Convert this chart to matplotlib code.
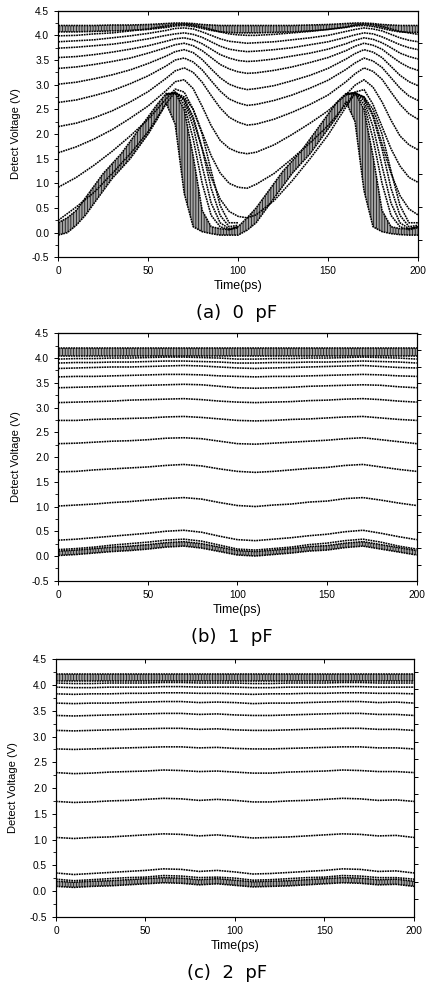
"""
Detect voltage vs time for three load capacitances (0, 1, 2 pF).
Stacked panels, each with a family of detect curves.
"""

import matplotlib
matplotlib.use("Agg")
import matplotlib.pyplot as plt
import numpy as np


# ---------------------------------------------------------------- panel (a)
T_A = [0, 10, 20, 30, 40, 50, 60, 65, 70, 75, 80, 85, 90, 95, 100, 105,
       110, 120, 130, 140, 150, 160, 165, 170, 175, 180, 185, 190, 195, 200]

A_CURVES = [
    [3.99, 4.00, 4.03, 4.05, 4.09, 4.13, 4.19, 4.22, 4.23, 4.21, 4.17, 4.12, 4.07, 4.03, 4.01,
     4.00, 4.00, 4.02, 4.05, 4.08, 4.12, 4.17, 4.21, 4.23, 4.22, 4.18, 4.13, 4.08, 4.05, 4.02],
    [3.87, 3.89, 3.91, 3.95, 3.99, 4.04, 4.10, 4.14, 4.15, 4.13, 4.07, 4.00, 3.93, 3.88, 3.86,
     3.84, 3.85, 3.87, 3.91, 3.95, 4.00, 4.08, 4.12, 4.15, 4.13, 4.09, 4.02, 3.95, 3.90, 3.87],
    [3.74, 3.76, 3.79, 3.82, 3.87, 3.93, 4.00, 4.03, 4.05, 4.02, 3.96, 3.87, 3.78, 3.72, 3.69,
     3.67, 3.68, 3.71, 3.75, 3.81, 3.87, 3.96, 4.01, 4.05, 4.03, 3.97, 3.89, 3.81, 3.75, 3.71],
    [3.55, 3.57, 3.61, 3.66, 3.72, 3.79, 3.88, 3.93, 3.95, 3.91, 3.83, 3.72, 3.61, 3.54, 3.49,
     3.47, 3.48, 3.52, 3.58, 3.64, 3.72, 3.83, 3.90, 3.95, 3.92, 3.85, 3.75, 3.64, 3.57, 3.52],
    [3.33, 3.36, 3.41, 3.47, 3.54, 3.64, 3.75, 3.81, 3.84, 3.79, 3.69, 3.55, 3.41, 3.32, 3.26,
     3.23, 3.24, 3.29, 3.36, 3.45, 3.55, 3.69, 3.78, 3.84, 3.80, 3.72, 3.58, 3.45, 3.35, 3.29],
    [3.01, 3.05, 3.12, 3.20, 3.30, 3.43, 3.58, 3.67, 3.71, 3.65, 3.51, 3.32, 3.14, 3.01, 2.94,
     2.90, 2.92, 2.98, 3.08, 3.19, 3.33, 3.52, 3.63, 3.71, 3.66, 3.55, 3.37, 3.19, 3.06, 2.98],
    [2.64, 2.69, 2.78, 2.88, 3.02, 3.18, 3.38, 3.50, 3.54, 3.46, 3.30, 3.08, 2.87, 2.71, 2.63,
     2.58, 2.60, 2.68, 2.79, 2.93, 3.09, 3.31, 3.44, 3.54, 3.48, 3.35, 3.14, 2.93, 2.77, 2.68],
    [2.15, 2.22, 2.33, 2.47, 2.65, 2.86, 3.13, 3.28, 3.34, 3.25, 3.05, 2.78, 2.53, 2.34, 2.24,
     2.18, 2.20, 2.30, 2.44, 2.60, 2.79, 3.06, 3.22, 3.34, 3.27, 3.11, 2.85, 2.60, 2.41, 2.30],
    [1.62, 1.74, 1.90, 2.09, 2.32, 2.57, 2.88, 3.06, 3.10, 2.92, 2.56, 2.17, 1.87, 1.71, 1.63,
     1.60, 1.63, 1.78, 1.99, 2.22, 2.47, 2.80, 2.99, 3.10, 2.95, 2.65, 2.28, 1.96, 1.78, 1.68],
    [0.92, 1.12, 1.37, 1.65, 1.96, 2.30, 2.71, 2.91, 2.85, 2.50, 2.03, 1.56, 1.21, 1.00, 0.92,
     0.90, 0.98, 1.20, 1.50, 1.82, 2.17, 2.60, 2.85, 2.90, 2.60, 2.15, 1.70, 1.35, 1.12, 1.02],
    [0.25, 0.52, 0.82, 1.20, 1.60, 2.05, 2.62, 2.85, 2.70, 2.29, 1.70, 1.12, 0.68, 0.43, 0.33,
     0.30, 0.36, 0.65, 1.05, 1.50, 1.98, 2.55, 2.82, 2.75, 2.40, 1.80, 1.20, 0.75, 0.48, 0.36],
]

TOP_A_HIGH = [4.20, 4.20, 4.20, 4.21, 4.21, 4.22, 4.24, 4.25, 4.25, 4.24, 4.22, 4.21, 4.20, 4.20, 4.20,
              4.20, 4.20, 4.20, 4.20, 4.21, 4.22, 4.24, 4.25, 4.25, 4.24, 4.22, 4.21, 4.20, 4.20, 4.20]
TOP_A_LOW = [4.07, 4.07, 4.08, 4.09, 4.10, 4.12, 4.16, 4.19, 4.20, 4.18, 4.14, 4.10, 4.07, 4.06, 4.05,
             4.05, 4.05, 4.06, 4.07, 4.09, 4.12, 4.16, 4.19, 4.20, 4.18, 4.14, 4.10, 4.07, 4.06, 4.06]

# dense lower band, 5 ps grid
BAND_A_T = list(range(0, 201, 5))
BAND_A_LOW = [-0.05, 0.00, 0.15, 0.35, 0.60, 0.85, 1.10, 1.30, 1.50, 1.75, 2.00, 2.30, 2.62, 2.20,
              0.80, 0.12, 0.02, -0.02, -0.05, -0.05, -0.05, 0.05, 0.20, 0.45, 0.70, 0.95, 1.20,
              1.40, 1.60, 1.85, 2.10, 2.35, 2.65, 2.25, 0.85, 0.12, 0.02, -0.02, -0.04, -0.05, -0.05]
BAND_A_HIGH = [0.20, 0.30, 0.45, 0.70, 0.95, 1.20, 1.40, 1.60, 1.85, 2.10, 2.35, 2.60, 2.82, 2.83,
               2.50, 1.55, 0.45, 0.12, 0.08, 0.06, 0.12, 0.30, 0.50, 0.75, 1.00, 1.25, 1.45,
               1.65, 1.90, 2.15, 2.40, 2.65, 2.82, 2.83, 2.50, 1.55, 0.45, 0.12, 0.08, 0.08, 0.12]

# slower falling edges that leave the band
FALL_A_T1 = [60, 65, 70, 75, 80, 85, 90, 95, 100]
FALL_A_T2 = [160, 165, 170, 175, 180, 185, 190, 195, 200]
FALL_A_CURVES = [
    [2.80, 2.83, 2.60, 1.90, 1.00, 0.35, 0.12, 0.06, 0.10],
    [2.80, 2.83, 2.68, 2.15, 1.35, 0.60, 0.20, 0.08, 0.12],
    [2.80, 2.84, 2.72, 2.35, 1.70, 0.90, 0.35, 0.12, 0.15],
    [2.80, 2.84, 2.75, 2.50, 2.00, 1.25, 0.55, 0.20, 0.20],
]

# ---------------------------------------------------------------- panel (b)
T_BC = list(range(0, 201, 10))

B_CURVES = [
    [3.98, 3.99, 3.99, 4.00, 4.00, 4.01, 4.02, 4.02, 4.01, 4.00, 3.98, 3.98, 3.99, 3.99, 4.00, 4.00, 4.01, 4.02, 4.01, 4.00, 3.98],
    [3.90, 3.91, 3.91, 3.92, 3.92, 3.93, 3.94, 3.94, 3.93, 3.92, 3.90, 3.90, 3.91, 3.91, 3.92, 3.92, 3.93, 3.94, 3.93, 3.92, 3.90],
    [3.79, 3.80, 3.81, 3.82, 3.82, 3.83, 3.84, 3.85, 3.84, 3.82, 3.80, 3.79, 3.80, 3.81, 3.82, 3.83, 3.84, 3.85, 3.83, 3.81, 3.80],
    [3.62, 3.63, 3.63, 3.64, 3.65, 3.66, 3.67, 3.67, 3.66, 3.64, 3.63, 3.62, 3.63, 3.63, 3.64, 3.65, 3.66, 3.67, 3.66, 3.64, 3.63],
    [3.40, 3.41, 3.42, 3.43, 3.44, 3.45, 3.46, 3.47, 3.46, 3.43, 3.40, 3.39, 3.40, 3.41, 3.43, 3.44, 3.45, 3.46, 3.45, 3.42, 3.40],
    [3.10, 3.11, 3.12, 3.13, 3.15, 3.16, 3.17, 3.18, 3.16, 3.13, 3.11, 3.10, 3.11, 3.12, 3.14, 3.15, 3.17, 3.18, 3.16, 3.13, 3.11],
    [2.74, 2.74, 2.76, 2.77, 2.78, 2.79, 2.81, 2.82, 2.80, 2.77, 2.74, 2.73, 2.74, 2.76, 2.77, 2.79, 2.81, 2.82, 2.79, 2.76, 2.74],
    [2.27, 2.28, 2.30, 2.32, 2.33, 2.35, 2.38, 2.39, 2.37, 2.32, 2.27, 2.26, 2.28, 2.30, 2.32, 2.34, 2.37, 2.39, 2.35, 2.31, 2.27],
    [1.70, 1.71, 1.74, 1.76, 1.78, 1.80, 1.83, 1.85, 1.82, 1.76, 1.71, 1.69, 1.71, 1.74, 1.77, 1.79, 1.83, 1.85, 1.80, 1.75, 1.71],
    [1.01, 1.03, 1.05, 1.08, 1.10, 1.13, 1.16, 1.18, 1.15, 1.08, 1.02, 1.00, 1.03, 1.05, 1.09, 1.11, 1.16, 1.18, 1.13, 1.07, 1.02],
    [0.32, 0.34, 0.37, 0.40, 0.43, 0.46, 0.50, 0.52, 0.48, 0.40, 0.33, 0.31, 0.34, 0.37, 0.41, 0.44, 0.49, 0.52, 0.46, 0.39, 0.33],
    [0.13, 0.15, 0.18, 0.22, 0.25, 0.28, 0.32, 0.34, 0.30, 0.22, 0.14, 0.12, 0.15, 0.18, 0.23, 0.26, 0.31, 0.34, 0.28, 0.20, 0.14],
]
TOP_B_LOW = [4.05] * 21
TOP_B_HIGH = [4.21] * 21
BOT_B_LOW = [0.01, 0.03, 0.06, 0.09, 0.11, 0.14, 0.18, 0.20, 0.16, 0.09, 0.02,
             0.00, 0.03, 0.06, 0.10, 0.12, 0.17, 0.20, 0.14, 0.08, 0.02]
BOT_B_HIGH = [0.10, 0.12, 0.15, 0.18, 0.20, 0.23, 0.27, 0.29, 0.25, 0.18, 0.11,
              0.09, 0.12, 0.15, 0.19, 0.21, 0.26, 0.29, 0.23, 0.17, 0.11]

# ---------------------------------------------------------------- panel (c)
C_CURVES = [
    [4.04, 4.03, 4.03, 4.04, 4.04, 4.04, 4.05, 4.05, 4.04, 4.04, 4.04, 4.03, 4.03, 4.04, 4.04, 4.04, 4.05, 4.05, 4.04, 4.04, 4.04],
    [3.96, 3.95, 3.95, 3.96, 3.96, 3.96, 3.97, 3.97, 3.96, 3.96, 3.96, 3.95, 3.95, 3.96, 3.96, 3.96, 3.97, 3.97, 3.96, 3.96, 3.96],
    [3.83, 3.82, 3.83, 3.83, 3.84, 3.84, 3.85, 3.85, 3.84, 3.84, 3.83, 3.82, 3.83, 3.83, 3.84, 3.84, 3.85, 3.85, 3.84, 3.84, 3.83],
    [3.65, 3.64, 3.65, 3.65, 3.66, 3.67, 3.68, 3.68, 3.66, 3.67, 3.66, 3.64, 3.65, 3.65, 3.66, 3.67, 3.68, 3.68, 3.66, 3.67, 3.65],
    [3.41, 3.40, 3.41, 3.42, 3.43, 3.44, 3.45, 3.45, 3.43, 3.44, 3.42, 3.41, 3.41, 3.42, 3.43, 3.44, 3.45, 3.45, 3.43, 3.43, 3.41],
    [3.12, 3.11, 3.12, 3.13, 3.14, 3.15, 3.16, 3.16, 3.14, 3.15, 3.13, 3.12, 3.12, 3.13, 3.14, 3.15, 3.16, 3.16, 3.14, 3.14, 3.12],
    [2.76, 2.75, 2.76, 2.77, 2.78, 2.79, 2.80, 2.80, 2.78, 2.79, 2.77, 2.76, 2.76, 2.77, 2.78, 2.79, 2.80, 2.80, 2.78, 2.78, 2.76],
    [2.30, 2.28, 2.29, 2.31, 2.32, 2.33, 2.35, 2.34, 2.32, 2.33, 2.31, 2.29, 2.29, 2.31, 2.32, 2.33, 2.35, 2.34, 2.32, 2.32, 2.30],
    [1.74, 1.72, 1.73, 1.75, 1.76, 1.78, 1.80, 1.79, 1.76, 1.78, 1.76, 1.73, 1.73, 1.75, 1.76, 1.78, 1.80, 1.79, 1.76, 1.77, 1.74],
    [1.04, 1.02, 1.04, 1.05, 1.07, 1.09, 1.11, 1.10, 1.07, 1.09, 1.06, 1.03, 1.04, 1.05, 1.07, 1.09, 1.11, 1.10, 1.07, 1.08, 1.04],
    [0.35, 0.32, 0.34, 0.36, 0.38, 0.40, 0.43, 0.42, 0.38, 0.40, 0.37, 0.33, 0.34, 0.36, 0.38, 0.40, 0.43, 0.42, 0.38, 0.39, 0.35],
    [0.23, 0.20, 0.22, 0.24, 0.26, 0.27, 0.30, 0.29, 0.26, 0.27, 0.25, 0.21, 0.22, 0.24, 0.26, 0.27, 0.30, 0.29, 0.26, 0.26, 0.23],
]
TOP_C_LOW = [4.08] * 21
TOP_C_HIGH = [4.22] * 21
BOT_C_LOW = [0.09, 0.07, 0.09, 0.10, 0.12, 0.14, 0.16, 0.15, 0.12, 0.14, 0.11,
             0.08, 0.09, 0.10, 0.12, 0.14, 0.16, 0.15, 0.12, 0.13, 0.09]
BOT_C_HIGH = [0.19, 0.17, 0.19, 0.20, 0.22, 0.24, 0.26, 0.25, 0.22, 0.24, 0.21,
              0.18, 0.19, 0.20, 0.22, 0.24, 0.26, 0.25, 0.22, 0.23, 0.19]

CAPTIONS = ["(a)  0  pF", "(b)  1  pF", "(c)  2  pF"]

CURVE_STYLE = dict(color="black", linewidth=1.15, linestyle=(0, (1.1, 0.5)))


def draw_band(ax, t, low, high):
    """Hatched band standing in for a bundle of overlapping curves."""
    ax.fill_between(t, low, high, facecolor="#a4a4a4", edgecolor="#1a1a1a",
                    hatch="||||||", linewidth=0.0)
    ax.plot(t, low, **CURVE_STYLE)
    ax.plot(t, high, **CURVE_STYLE)


def style_axes(ax, right_start, right_step):
    ax.set_xlim(0, 200)
    ax.set_ylim(-0.5, 4.5)
    ax.set_xticks([0, 50, 100, 150, 200])
    ax.set_yticks(np.arange(-0.5, 4.51, 0.5))
    ax.set_yticks(np.arange(-0.5, 4.51, 0.25), minor=True)
    ax.yaxis.set_major_formatter(matplotlib.ticker.FormatStrFormatter("%.1f"))
    ax.tick_params(axis="both", which="major", direction="out", length=3,
                   width=0.7, labelsize=7.3, pad=3.5)
    ax.tick_params(axis="y", which="minor", direction="out", length=2, width=0.6)
    for side in ax.spines.values():
        side.set_linewidth(0.8)
        side.set_color("#222222")
    ax.set_xlabel("Time(ps)", fontsize=9, labelpad=3)
    ax.set_ylabel("Detect Voltage (V)", fontsize=8, labelpad=8)

    top = ax.secondary_xaxis("top")
    top.set_xticks([50, 100, 150])
    top.set_xticklabels([])
    top.tick_params(direction="in", length=3, width=0.7)

    right = ax.twinx()
    right.set_ylim(-0.5, 4.5)
    right.set_yticks(np.arange(right_start, 4.5, right_step))
    right.set_yticklabels([])
    right.tick_params(direction="out", length=3, width=0.7)
    right.spines["right"].set_linewidth(0.8)


def draw_panel_a(ax):
    draw_band(ax, T_A, TOP_A_LOW, TOP_A_HIGH)
    for values in A_CURVES:
        ax.plot(T_A, values, **CURVE_STYLE)
    draw_band(ax, BAND_A_T, BAND_A_LOW, BAND_A_HIGH)
    for values in FALL_A_CURVES:
        ax.plot(FALL_A_T1, values, **CURVE_STYLE)
        ax.plot(FALL_A_T2, values, **CURVE_STYLE)


def draw_flat_panel(ax, curves, top_low, top_high, bot_low, bot_high):
    draw_band(ax, T_BC, top_low, top_high)
    for values in curves:
        ax.plot(T_BC, values, **CURVE_STYLE)
    draw_band(ax, T_BC, bot_low, bot_high)


def main():
    plt.rcParams["font.family"] = ["Liberation Sans", "DejaVu Sans"]
    plt.rcParams["hatch.linewidth"] = 0.6

    fig = plt.figure(figsize=(4.34, 9.90), dpi=100)
    ax_a = fig.add_axes([0.1343, 0.7401, 0.8288, 0.2491])
    ax_b = fig.add_axes([0.1343, 0.4134, 0.8258, 0.2499])
    ax_c = fig.add_axes([0.1290, 0.0740, 0.8249, 0.2600])

    draw_panel_a(ax_a)
    draw_flat_panel(ax_b, B_CURVES, TOP_B_LOW, TOP_B_HIGH, BOT_B_LOW, BOT_B_HIGH)
    draw_flat_panel(ax_c, C_CURVES, TOP_C_LOW, TOP_C_HIGH, BOT_C_LOW, BOT_C_HIGH)

    style_axes(ax_a, -0.15, 0.665)
    style_axes(ax_b, -0.18, 0.334)
    style_axes(ax_c, -0.16, 0.34)

    caption_pos = [(236.7, 313), (231.7, 637), (226.7, 973)]
    for text, (px, py) in zip(CAPTIONS, caption_pos):
        fig.text(px / 434, 1 - py / 990, text, ha="center", va="center",
                 fontsize=13, family=["DejaVu Sans"])

    fig.savefig("out.png", dpi=100, facecolor="white")


if __name__ == "__main__":
    main()
